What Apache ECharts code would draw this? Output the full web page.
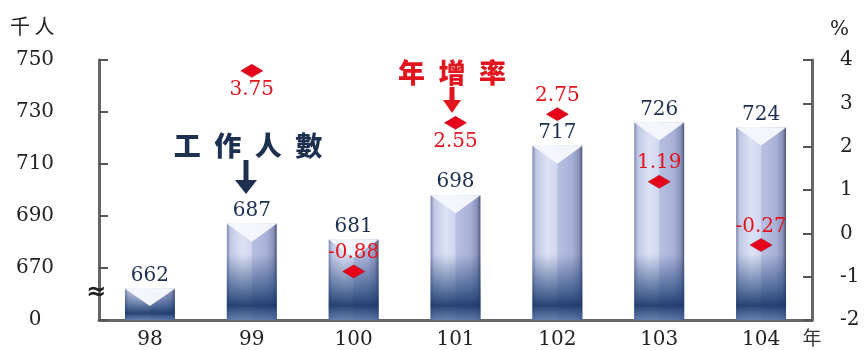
<!DOCTYPE html>
<html><head><meta charset="utf-8">
<script src="https://cdn.jsdelivr.net/npm/echarts@6/dist/echarts.min.js"></script>
<style>html,body{margin:0;padding:0;background:#fff}#c{width:865px;height:350px}</style>
</head><body><div id="c"></div>
<script>
// ---- data ----
const years = ['98', '99', '100', '101', '102', '103', '104'];
const workers = [662, 687, 681, 698, 717, 726, 724];          // 千人
const growth = [null, 3.75, -0.88, 2.55, 2.75, 1.19, -0.27];  // %
const leftTicks = [650, 670, 690, 710, 730, 750];             // 650 drawn as "0" (broken axis)
const rightTicks = [-2, -1, 0, 1, 2, 3, 4];

const BASE = leftTicks[0];
const belowLabel = { '99': true, '101': true };

const serif = '"DejaVu Serif", "Liberation Serif", serif';
const cjk = '"Noto Sans CJK TC", "Noto Sans CJK SC", sans-serif';
const NAVY = '#1d3050';
const RED = '#e2141d';

function renderBar(params, api) {
  const i = api.value(0);
  const top = api.coord([i, api.value(1)]);
  const bot = api.coord([i, 0]);
  const bw = api.size([1, 0])[0] * 0.49;
  const cx = top[0], x0 = cx - bw / 2, x1 = cx + bw / 2, y0 = top[1], y1 = bot[1], h = y1 - y0;
  const chev = Math.min(18, h * 0.55);
  const darkH = Math.min(h, 66);
  return {
    type: 'group',
    children: [
      { type: 'rect', shape: { x: x0, y: y0, width: bw, height: h },
        style: { fill: { type: 'linear', x: 0, y: 0, x2: 1, y2: 0, colorStops: [
          { offset: 0, color: '#7e88ae' }, { offset: 0.07, color: '#c0c8e5' },
          { offset: 0.3, color: '#dde2f5' }, { offset: 0.49, color: '#d1d7f0' },
          { offset: 0.51, color: '#b8c0e2' }, { offset: 0.8, color: '#a8b0d6' },
          { offset: 0.93, color: '#8a93bb' }, { offset: 1, color: '#4f5779' } ] } } },
      { type: 'rect', shape: { x: x0, y: y1 - darkH, width: bw, height: darkH },
        style: { fill: { type: 'linear', x: 0, y: 0, x2: 0, y2: 1, colorStops: [
          { offset: 0, color: 'rgba(30,62,112,0)' }, { offset: 0.45, color: 'rgba(30,66,120,0.55)' },
          { offset: 0.78, color: 'rgba(20,52,102,0.9)' }, { offset: 1, color: 'rgba(75,105,155,0.8)' } ] } } },
      { type: 'polygon', shape: { points: [[x0, y0], [x1, y0], [cx, y0 + chev]] },
        style: { fill: 'rgba(246,248,254,0.96)' } },
      { type: 'text', style: { text: String(workers[i]), x: cx, y: y0 - 3, align: 'center',
        verticalAlign: 'bottom', font: '20px ' + serif, fill: NAVY } }
    ]
  };
}

const chart = echarts.init(document.getElementById('c'), null, { renderer: 'canvas' });
chart.setOption({
  animation: false,
  grid: { left: 99, right: 53, top: 60, bottom: 30 },
  xAxis: {
    type: 'category', data: years, boundaryGap: true,
    axisLine: { lineStyle: { color: '#666', width: 3 } },
    axisTick: { inside: true, length: 8, lineStyle: { color: '#555', width: 3 } },
    axisLabel: { fontFamily: serif, fontSize: 20, color: '#222', margin: 10 }
  },
  yAxis: [{
    type: 'value', min: 0, max: leftTicks[leftTicks.length - 1] - BASE, interval: leftTicks[1] - leftTicks[0],
    splitLine: { show: false },
    axisLine: { show: true, lineStyle: { color: '#666', width: 3 } },
    axisTick: { show: true, inside: true, length: 9, lineStyle: { color: '#555', width: 2 } },
    axisLabel: { fontFamily: serif, fontSize: 20, color: '#222', align: 'center', margin: 64,
      formatter: v => (v === 0 ? '0' : String(v + BASE)) }
  }, {
    type: 'value', position: 'right', min: rightTicks[0], max: rightTicks[rightTicks.length - 1], interval: 1,
    splitLine: { show: false },
    axisLine: { show: true, lineStyle: { color: '#666', width: 3 } },
    axisTick: { show: true, inside: true, length: 9, lineStyle: { color: '#555', width: 2 } },
    axisLabel: { fontFamily: serif, fontSize: 20, color: '#222', align: 'left', margin: 28 }
  }],
  series: [{
    type: 'custom', yAxisIndex: 0, renderItem: renderBar, z: 2,
    data: workers.map((v, i) => [i, v - BASE])
  }, {
    type: 'line', yAxisIndex: 1, z: 5,
    lineStyle: { width: 0, opacity: 0 },
    symbol: 'diamond', symbolSize: [22, 13],
    itemStyle: { color: '#e5041b', borderColor: '#b10012', borderWidth: 0.5 },
    label: { show: true, fontFamily: serif, fontSize: 20, color: RED, distance: 2 },
    data: growth.map((v, i) => v === null ? null : ({
      value: v, label: { position: belowLabel[years[i]] ? 'bottom' : 'top' }
    }))
  }],
  graphic: [
    { type: 'text', left: 10, top: 16, style: { text: '千 人', font: '20px ' + cjk, fill: '#222' } },
    { type: 'text', left: 830, top: 20, style: { text: '%', font: '20px ' + serif, fill: '#222' } },
    { type: 'text', x: 812, y: 338, style: { text: '年', font: '19px ' + cjk, fill: '#333', align: 'center', verticalAlign: 'middle' } },
    { type: 'text', x: 96, y: 293, z: 10, style: { text: '≈', font: 'bold 24px "DejaVu Sans"', fill: '#222', align: 'center', verticalAlign: 'middle' } },
    { type: 'text', x: 248, y: 146, style: { text: '工\u2002作\u2002人\u2002數', font: '900 27px ' + cjk, fill: NAVY, align: 'center', verticalAlign: 'middle' } },
    { type: 'line', shape: { x1: 246, y1: 160, x2: 246, y2: 182 }, style: { stroke: NAVY, lineWidth: 5 } },
    { type: 'polygon', shape: { points: [[235, 180], [257, 180], [246, 194]] }, style: { fill: NAVY } },
    { type: 'text', x: 452, y: 73, style: { text: '年\u2002增\u2002率', font: '900 27px ' + cjk, fill: RED, align: 'center', verticalAlign: 'middle' } },
    { type: 'line', shape: { x1: 452, y1: 87, x2: 452, y2: 102 }, style: { stroke: RED, lineWidth: 5 } },
    { type: 'polygon', shape: { points: [[443, 100], [461, 100], [452, 113]] }, style: { fill: RED } }
  ]
});
</script></body></html>
